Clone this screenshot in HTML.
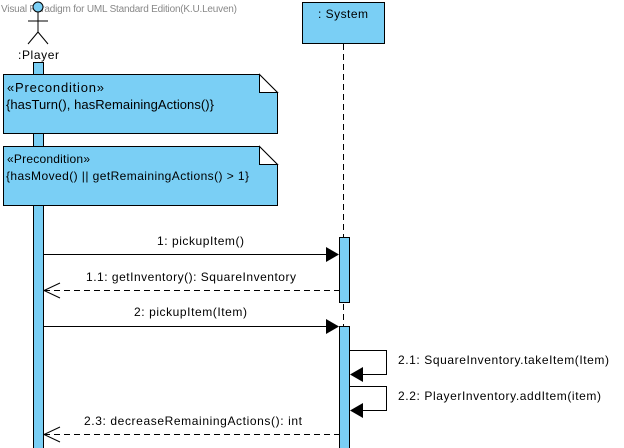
<!DOCTYPE html>
<html><head><style>body{margin:0;background:#fff}svg{display:block}text{font-family:"Liberation Sans",sans-serif;fill:#000}</style></head>
<body>
<svg width="624" height="448" viewBox="0 0 624 448" xmlns="http://www.w3.org/2000/svg">
<rect x="33.5" y="62.5" width="10" height="390" fill="#7acff5" stroke="#000"/>
<text x="1" y="12" font-size="10" textLength="236" lengthAdjust="spacing" style="fill:#888">Visual Paradigm for UML Standard Edition(K.U.Leuven)</text>
<circle cx="38" cy="7" r="5" fill="#7acff5" stroke="#000"/>
<g stroke="#000" fill="none"><line x1="38" y1="12" x2="38" y2="32"/><line x1="28" y1="21" x2="48" y2="21"/><line x1="38" y1="32" x2="28" y2="44"/><line x1="38" y1="32" x2="48" y2="44"/></g>
<text x="18" y="59" font-size="12" textLength="41" lengthAdjust="spacing">:Player</text>
<path d="M3.5 74.5H259.5L277.5 92.5V133.5H3.5Z" fill="#7acff5" stroke="#000"/>
<path d="M259.5 74.5V92.5H277.5Z" fill="#fff" stroke="#000"/>
<text x="7" y="92" font-size="13" textLength="97" lengthAdjust="spacing">«Precondition»</text>
<text x="6" y="109" font-size="13" textLength="208" lengthAdjust="spacing">{hasTurn(), hasRemainingActions()}</text>
<path d="M3.5 146.5H259.5L277.5 164.5V205.5H3.5Z" fill="#7acff5" stroke="#000"/>
<path d="M259.5 146.5V164.5H277.5Z" fill="#fff" stroke="#000"/>
<text x="7" y="163" font-size="12" textLength="83" lengthAdjust="spacing">«Precondition»</text>
<text x="6" y="180" font-size="12" textLength="243" lengthAdjust="spacing">{hasMoved() || getRemainingActions() &gt; 1}</text>
<rect x="302.5" y="2.5" width="82" height="41" fill="#7acff5" stroke="#000"/>
<text x="318" y="18" font-size="12" textLength="50" lengthAdjust="spacing">: System</text>
<line x1="343.5" y1="44" x2="343.5" y2="448" stroke="#000" stroke-dasharray="6,4"/>
<rect x="339.5" y="237.5" width="10" height="65" fill="#7acff5" stroke="#000"/>
<rect x="339.5" y="326.5" width="10" height="130" fill="#7acff5" stroke="#000"/>
<g stroke="#000" fill="none">
<line x1="44" y1="254.5" x2="326" y2="254.5"/>
<line x1="44" y1="290.5" x2="339" y2="290.5" stroke-dasharray="6,4"/>
<path d="M60 283L44 290.5L60 298"/>
<line x1="44" y1="326.5" x2="326" y2="326.5"/>
<path d="M350 350.5H386.5V374.5H362"/>
<path d="M350 386.5H386.5V410.5H362"/>
<line x1="44" y1="434.5" x2="339" y2="434.5" stroke-dasharray="6,4"/>
<path d="M60 427L44 434.5L60 442"/>
</g>
<path d="M326 247L339 254.5L326 262Z"/>
<path d="M326 319L339 326.5L326 334Z"/>
<path d="M363 367L350 374.5L363 382Z"/>
<path d="M363 403L350 410.5L363 418Z"/>
<text x="157" y="245" font-size="12" textLength="87" lengthAdjust="spacing">1: pickupItem()</text>
<text x="86" y="281" font-size="12" textLength="210" lengthAdjust="spacing">1.1: getInventory(): SquareInventory</text>
<text x="134" y="316" font-size="12" textLength="113" lengthAdjust="spacing">2: pickupItem(Item)</text>
<text x="398" y="364" font-size="12" textLength="211" lengthAdjust="spacing">2.1: SquareInventory.takeItem(Item)</text>
<text x="398" y="400" font-size="12" textLength="203" lengthAdjust="spacing">2.2: PlayerInventory.addItem(item)</text>
<text x="84" y="425" font-size="12" textLength="218" lengthAdjust="spacing">2.3: decreaseRemainingActions(): int</text>
</svg>
</body></html>
